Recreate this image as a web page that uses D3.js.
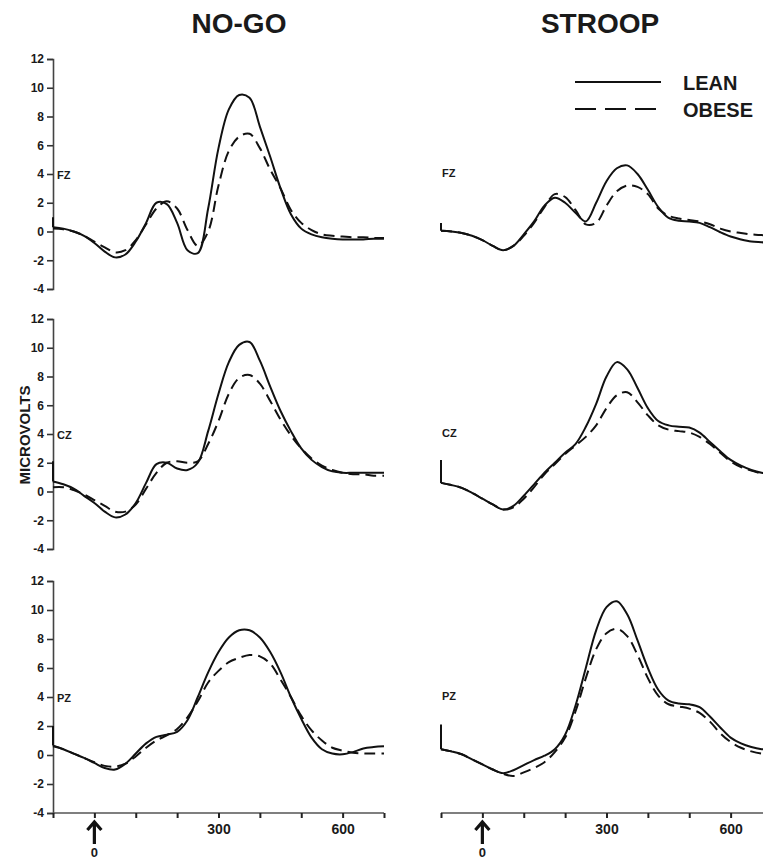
<!DOCTYPE html>
<html>
<head>
<meta charset="utf-8">
<script src="https://cdn.jsdelivr.net/npm/d3@7"></script>
<style>
  body { margin: 0; background: #fff; }
  svg { display: block; font-family: "Liberation Sans", Arial, sans-serif; }
  .lbl { font-weight: bold; fill: #1a1a1a; }
</style>
</head>
<body>
<div id="chart"></div>
<script>
// time points (ms) shared by every waveform
const times = [-100, -75, -50, -25, 0, 25, 50, 75, 100, 125, 150, 175, 200, 225, 250, 275, 300,
  325, 350, 375, 400, 425, 450, 475, 500, 525, 550, 575, 600, 625, 650, 675, 700]

const tasks = ['NO-GO', 'STROOP']
const channels = ['FZ', 'CZ', 'PZ']
const yTicks = [-4, -2, 0, 2, 4, 6, 8, 10, 12]
const xTicks = [-100, 0, 100, 200, 300, 400, 500, 600, 700]
const xLabels = [300, 600]

// NO-GO
const nogoFzLean = [0.3, 0.2, 0.0, -0.3, -0.8, -1.4, -1.8, -1.6, -0.7, 0.6, 2.0, 1.9, 0.6, -1.3, -1.5, 1.6, 5.8,
  8.5, 9.5, 9.3, 7.3, 5.2, 3.0, 1.2, 0.2, -0.2, -0.4, -0.5, -0.55, -0.55, -0.55, -0.5, -0.5]
const nogoFzObese = [0.2, 0.15, 0.0, -0.3, -0.7, -1.1, -1.45, -1.3, -0.6, 0.5, 1.6, 2.1, 1.6, 0.1, -1.0, 0.0, 3.2,
  5.6, 6.6, 6.8, 5.8, 4.3, 3.0, 1.5, 0.6, 0.1, -0.2, -0.3, -0.35, -0.4, -0.4, -0.45, -0.45]
const nogoCzLean = [0.7, 0.5, 0.2, -0.3, -0.8, -1.4, -1.8, -1.6, -0.8, 0.6, 1.9, 2.0, 1.6, 1.5, 2.0, 4.2, 6.8,
  9.0, 10.2, 10.4, 9.1, 7.3, 5.6, 4.2, 3.0, 2.2, 1.7, 1.4, 1.3, 1.3, 1.3, 1.3, 1.3]
const nogoCzObese = [0.3, 0.3, 0.1, -0.2, -0.6, -1.0, -1.4, -1.4, -0.9, 0.2, 1.3, 2.0, 2.1, 2.0, 2.1, 3.3, 4.9,
  6.8, 7.9, 8.1, 7.5, 6.3, 5.0, 3.9, 3.0, 2.3, 1.8, 1.5, 1.3, 1.2, 1.2, 1.1, 1.1]
const nogoPzLean = [0.65, 0.4, 0.1, -0.2, -0.55, -0.9, -1.0, -0.6, 0.1, 0.8, 1.25, 1.4, 1.6, 2.4, 4.0, 5.7, 7.1,
  8.1, 8.6, 8.6, 8.1, 7.1, 5.7, 4.0, 2.5, 1.2, 0.4, 0.1, 0.05, 0.2, 0.45, 0.55, 0.6]
const nogoPzObese = [0.6, 0.4, 0.1, -0.2, -0.5, -0.75, -0.8, -0.6, -0.1, 0.5, 1.0, 1.35, 1.8, 2.6, 3.7, 5.0, 5.8,
  6.4, 6.7, 6.9, 6.8, 6.3, 5.2, 4.0, 2.7, 1.7, 1.0, 0.5, 0.3, 0.15, 0.1, 0.1, 0.1]

// STROOP
const stroopFzLean = [0.05, 0.0, -0.1, -0.3, -0.6, -1.0, -1.3, -1.0, -0.2, 0.7, 1.8, 2.35, 2.0, 1.3, 0.7, 2.0, 3.5,
  4.4, 4.6, 4.0, 2.9, 1.7, 0.95, 0.75, 0.7, 0.6, 0.3, -0.05, -0.35, -0.55, -0.7, -0.75, -0.8]
const stroopFzObese = [0.05, 0.0, -0.1, -0.3, -0.6, -1.0, -1.3, -1.0, -0.3, 0.6, 1.7, 2.6, 2.4, 1.5, 0.5, 0.6, 1.8,
  2.8, 3.2, 3.1, 2.6, 1.6, 1.1, 0.9, 0.8, 0.7, 0.5, 0.2, 0.0, -0.1, -0.2, -0.25, -0.3]
const stroopCzLean = [0.6, 0.45, 0.25, -0.1, -0.5, -0.9, -1.25, -1.0, -0.3, 0.5, 1.3, 2.0, 2.7, 3.3, 4.5, 6.1, 8.0,
  9.0, 8.5, 7.2, 5.8, 4.9, 4.6, 4.5, 4.45, 4.1, 3.45, 2.8, 2.2, 1.8, 1.5, 1.3, 1.2]
const stroopCzObese = [0.6, 0.45, 0.25, -0.1, -0.5, -0.9, -1.25, -1.1, -0.5, 0.3, 1.2, 1.9, 2.6, 3.2, 3.8, 4.6, 5.8,
  6.7, 6.9, 6.2, 5.3, 4.6, 4.3, 4.2, 4.1, 3.8, 3.3, 2.7, 2.1, 1.7, 1.45, 1.25, 1.1]
const stroopPzLean = [0.4, 0.25, 0.05, -0.3, -0.65, -1.0, -1.25, -1.05, -0.7, -0.35, -0.05, 0.4, 1.4, 3.4, 6.0, 8.6, 10.2,
  10.6, 9.7, 7.9, 6.0, 4.5, 3.75, 3.55, 3.5, 3.3, 2.65, 1.9, 1.2, 0.8, 0.55, 0.4, 0.35]
const stroopPzObese = [0.4, 0.25, 0.05, -0.3, -0.65, -1.0, -1.3, -1.45, -1.2, -0.9, -0.5, 0.2, 1.2, 3.0, 5.3, 7.3, 8.4,
  8.7, 8.2, 6.9, 5.3, 4.1, 3.5, 3.35, 3.2, 2.9, 2.3, 1.5, 0.9, 0.5, 0.25, 0.1, 0.05]

// stimulus artifact at the start of each trace (top of the little vertical spike)
const spikeTops = [[1.0, 2.1, 2.0], [0.6, 2.2, 2.1]]

const series = [
  [[nogoFzLean, nogoFzObese], [nogoCzLean, nogoCzObese], [nogoPzLean, nogoPzObese]],
  [[stroopFzLean, stroopFzObese], [stroopCzLean, stroopCzObese], [stroopPzLean, stroopPzObese]]
]

const width = 763
const height = 861

const svg = d3.select('#chart').append('svg')
  .attr('width', width)
  .attr('height', height)

// horizontal placement of the two columns (-100 ms .. 700 ms)
const colRange = [[53, 384], [441, 772]]
// vertical placement of the three rows (12 .. -4 microvolts)
const rowRange = [[59, 289], [319, 549], [581, 813]]

const ink = '#111'

tasks.forEach((task, c) => {
  const x = d3.scaleLinear().domain([-100, 700]).range(colRange[c])

  svg.append('text')
    .attr('class', 'lbl')
    .attr('x', c == 0 ? 239 : 600)
    .attr('y', 33)
    .attr('text-anchor', 'middle')
    .style('font-size', '28px')
    .text(task)

  channels.forEach((ch, r) => {
    const y = d3.scaleLinear().domain([12, -4]).range(rowRange[r])
    const g = svg.append('g')

    // y axis only on the left column
    if (c == 0) {
      const yAxis = d3.axisLeft(y).tickValues(yTicks).tickSize(6).tickPadding(3)
        .tickFormat(d => String(d))
      const ax = g.append('g')
        .attr('transform', `translate(${x(-100)},0)`)
        .call(yAxis)
      ax.select('.domain').attr('stroke', '#444').attr('stroke-width', 1.6)
      ax.selectAll('.tick line').attr('stroke', '#333').attr('stroke-width', 1.6)
      ax.selectAll('.tick text')
        .attr('class', 'lbl')
        .style('font-size', '12px')
    }

    // bottom row has the time axis
    if (r == 2) {
      const xAxis = d3.axisBottom(x).tickValues(xTicks).tickSize(5)
        .tickFormat(d => xLabels.includes(d) ? String(d) : '')
      const ax = g.append('g')
        .attr('transform', `translate(0,${y(-4)})`)
        .call(xAxis)
      ax.select('.domain').attr('stroke', '#555').attr('stroke-width', 1.6)
        .attr('d', `M${x(-100)},0H${x(700)}`)
      ax.selectAll('.tick line').attr('stroke', '#222').attr('stroke-width', 2)
      ax.selectAll('.tick text')
        .attr('class', 'lbl')
        .attr('dy', '0.9em')
        .style('font-size', '14px')

      // stimulus onset arrow
      const ax0 = x(0)
      const ay = y(-4) + 7
      g.append('path')
        .attr('d', `M${ax0},${ay + 24}V${ay + 2}M${ax0 - 7},${ay + 10}L${ax0},${ay + 2}L${ax0 + 7},${ay + 10}`)
        .attr('fill', 'none')
        .attr('stroke', ink)
        .attr('stroke-width', 3.2)
      g.append('text')
        .attr('class', 'lbl')
        .attr('x', ax0)
        .attr('y', ay + 37)
        .attr('text-anchor', 'middle')
        .style('font-size', '13px')
        .text('0')
    }

    // channel label
    g.append('text')
      .attr('class', 'lbl')
      .attr('x', x(-100) + (c == 0 ? 4 : 1))
      .attr('y', y(4) + (c == 0 ? 5 : 3))
      .style('font-size', '11px')
      .text(ch)

    const [lean, obese] = series[c][r]
    const line = d3.line()
      .x((d, i) => x(times[i]))
      .y(d => y(d))
      .curve(d3.curveCatmullRom.alpha(0.5))

    // spike at start
    g.append('path')
      .attr('d', d3.line()([[x(-100), y(lean[0])], [x(-100), y(spikeTops[c][r])]]))
      .attr('stroke', ink)
      .attr('stroke-width', 2)

    g.append('path')
      .datum(obese)
      .attr('d', line)
      .attr('fill', 'none')
      .attr('stroke', ink)
      .attr('stroke-width', 2)
      .attr('stroke-dasharray', '11,6')

    g.append('path')
      .datum(lean)
      .attr('d', line)
      .attr('fill', 'none')
      .attr('stroke', ink)
      .attr('stroke-width', 2)
  })
})

// MICROVOLTS label
svg.append('text')
  .attr('class', 'lbl')
  .attr('transform', 'translate(30,435) rotate(-90)')
  .attr('text-anchor', 'middle')
  .style('font-size', '15px')
  .text('MICROVOLTS')

// legend
const legend = svg.append('g')
legend.append('line')
  .attr('x1', 575).attr('x2', 661).attr('y1', 82).attr('y2', 82)
  .attr('stroke', ink).attr('stroke-width', 2)
legend.append('line')
  .attr('x1', 575).attr('x2', 661).attr('y1', 109).attr('y2', 109)
  .attr('stroke', ink).attr('stroke-width', 2)
  .attr('stroke-dasharray', '21,9')
legend.append('text')
  .attr('class', 'lbl')
  .attr('x', 683).attr('y', 90)
  .style('font-size', '20px')
  .text('LEAN')
legend.append('text')
  .attr('class', 'lbl')
  .attr('x', 683).attr('y', 117)
  .style('font-size', '20px')
  .text('OBESE')
</script>
</body>
</html>
